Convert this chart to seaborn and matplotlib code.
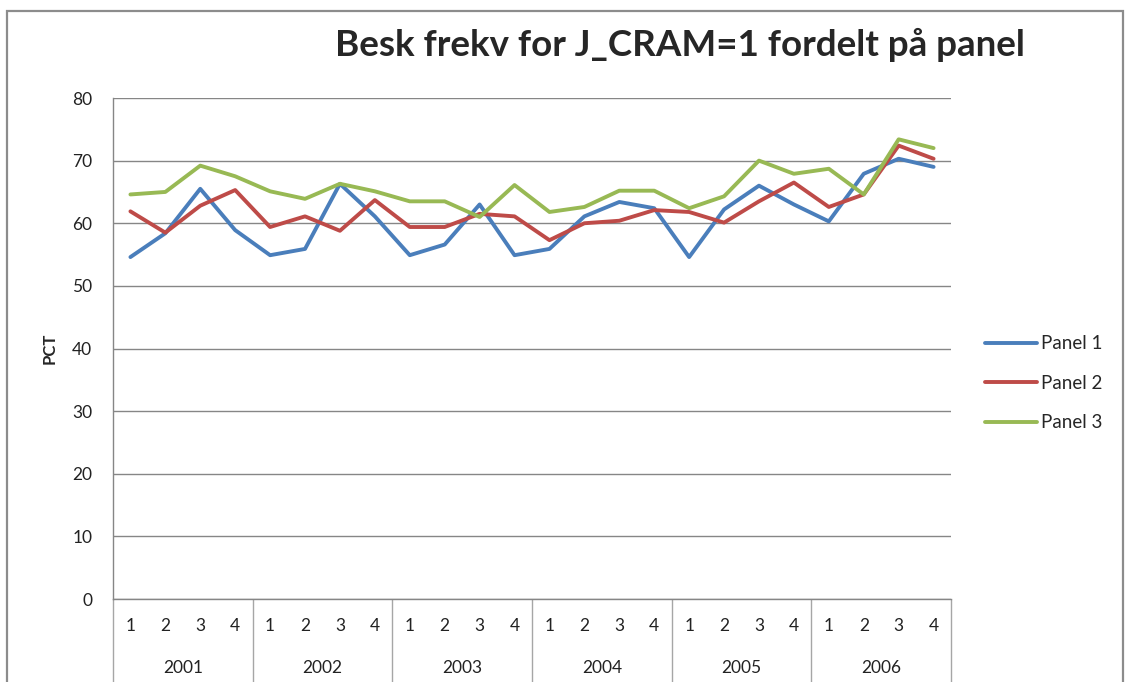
import numpy as np
import pandas as pd
import matplotlib
matplotlib.use("Agg")
import matplotlib.pyplot as plt
import seaborn as sns
from matplotlib.patches import Rectangle

years = ["2001", "2002", "2003", "2004", "2005", "2006"]
quarters = ["1", "2", "3", "4"]
panels = ["Panel 1", "Panel 2", "Panel 3"]

panel1 = [54.6, 58.4, 65.5, 58.9, 54.9, 55.9, 66.3, 61.1, 54.9, 56.6, 63.0, 54.9,
          55.9, 61.1, 63.4, 62.4, 54.6, 62.2, 66.0, 63.0, 60.3, 67.9, 70.3, 69.0]
panel2 = [61.9, 58.5, 62.8, 65.3, 59.4, 61.1, 58.8, 63.7, 59.4, 59.4, 61.5, 61.1,
          57.3, 60.0, 60.4, 62.1, 61.8, 60.1, 63.5, 66.5, 62.6, 64.6, 72.4, 70.3]
panel3 = [64.6, 65.0, 69.2, 67.5, 65.1, 63.9, 66.3, 65.1, 63.5, 63.5, 61.0, 66.1,
          61.8, 62.6, 65.2, 65.2, 62.4, 64.3, 70.0, 67.9, 68.7, 64.6, 73.4, 72.0]

colors = ["#4A7EBB", "#BE4B48", "#98B954"]

n = len(years) * len(quarters)
df = pd.DataFrame({
    "pos": list(range(n)) * 3,
    "pct": panel1 + panel2 + panel3,
    "panel": [p for p in panels for _ in range(n)],
})

sns.set_theme(style="white")
plt.rcParams["font.family"] = ["Lato", "DejaVu Sans"]

fig = plt.figure(figsize=(11.33, 6.82), dpi=100)
ax = fig.add_axes([0.0997, 0.1217, 0.7397, 0.7346])

sns.lineplot(data=df, x="pos", y="pct", hue="panel", palette=colors,
             linewidth=2.8, ax=ax, legend=True)

ax.set_xlim(-0.5, n - 0.5)
ax.set_ylim(0, 80)
ax.set_yticks(range(0, 81, 10))
ax.yaxis.grid(True, color="#868686", linewidth=1.0)
ax.set_axisbelow(True)
for s in ["top", "right"]:
    ax.spines[s].set_visible(False)
for s in ["left", "bottom"]:
    ax.spines[s].set_color("#868686")
    ax.spines[s].set_linewidth(1.0)

ax.set_xticks(range(n))
ax.set_xticklabels(quarters * len(years))
ax.tick_params(axis="x", length=0, pad=14, labelsize=12.5, labelcolor="#222222")
ax.tick_params(axis="y", length=0, pad=15, labelsize=12.5, labelcolor="#222222")
ax.set_xlabel("")
ax.set_ylabel("")

# year row under the quarter labels
trans = ax.get_xaxis_transform()
for i, yr in enumerate(years):
    ax.text(i * 4 + 1.5, -0.138, yr, transform=trans, ha="center", va="center",
            fontsize=12.5, color="#222222")
ax.vlines(np.arange(-0.5, n, 4), -0.17, 0, transform=trans, clip_on=False,
          color="#A6A6A6", linewidth=1.0)

fig.text(0.044, 0.49, "PCT", rotation=90, ha="center", va="center",
         fontsize=12, fontweight="bold")
fig.text(0.6, 0.934, "Besk frekv for J_CRAM=1 fordelt på panel",
         ha="center", va="center", fontsize=26.5, fontweight="bold")

handles, labels = ax.get_legend_handles_labels()
ax.legend_.remove()
fig.legend(handles, labels, loc="center left", bbox_to_anchor=(0.869, 0.438),
           frameon=False, fontsize=13.5, handlelength=2.8, handletextpad=0.2,
           labelspacing=1.2, borderpad=0, borderaxespad=0)

fig.patches.append(Rectangle((0.0062, -0.02), 0.985, 1.004, transform=fig.transFigure,
                             fill=False, edgecolor="#8C8C8C", linewidth=1.6))

fig.savefig("out.png", dpi=100)
